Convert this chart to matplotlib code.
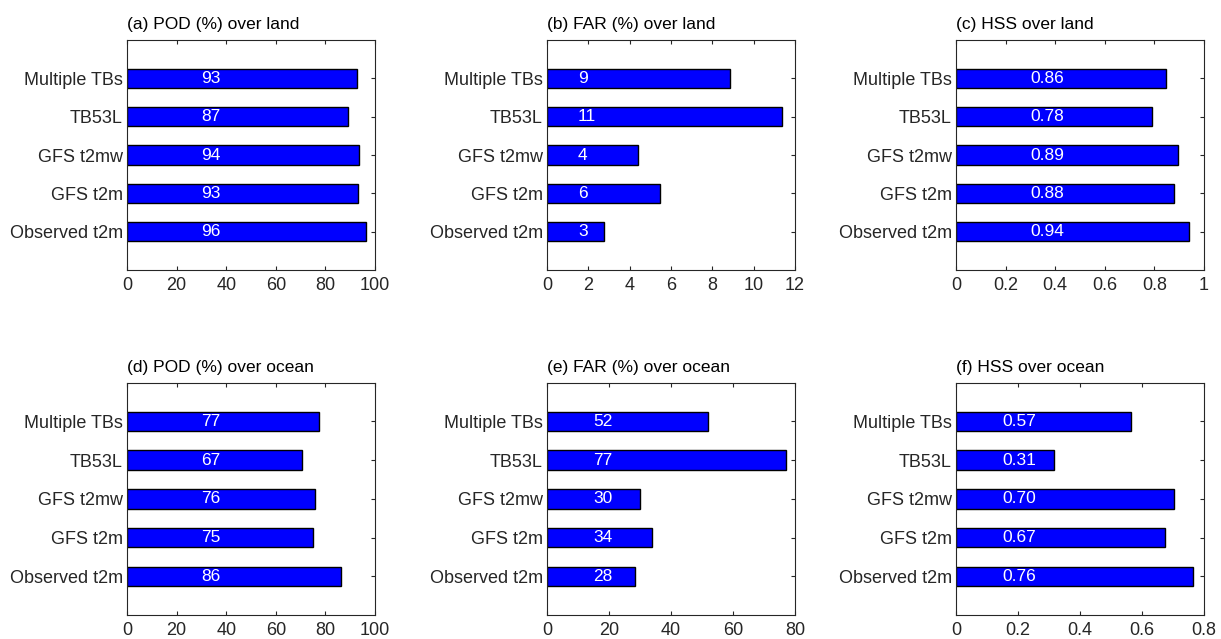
import matplotlib
matplotlib.use("Agg")
import matplotlib.pyplot as plt

plt.rcParams['font.family'] = ['Liberation Sans', 'DejaVu Sans']

categories = ["Observed t2m", "GFS t2m", "GFS t2mw", "TB53L", "Multiple TBs"]

pod_land = [96.2, 93.0, 93.4, 89.0, 92.6]
far_land = [2.74, 5.48, 4.40, 11.37, 8.84]
hss_land = [0.938, 0.879, 0.897, 0.789, 0.848]
pod_ocean = [86.3, 74.8, 76.0, 70.6, 77.4]
far_ocean = [28.4, 34.0, 30.1, 77.1, 51.8]
hss_ocean = [0.763, 0.673, 0.702, 0.315, 0.565]

pod_land_lbl = ["96", "93", "94", "87", "93"]
far_land_lbl = ["3", "6", "4", "11", "9"]
hss_land_lbl = ["0.94", "0.88", "0.89", "0.78", "0.86"]
pod_ocean_lbl = ["86", "75", "76", "67", "77"]
far_ocean_lbl = ["28", "34", "30", "77", "52"]
hss_ocean_lbl = ["0.76", "0.67", "0.70", "0.31", "0.57"]

titles = ["(a) POD (%) over land", "(b) FAR (%) over land", "(c) HSS over land",
          "(d) POD (%) over ocean", "(e) FAR (%) over ocean", "(f) HSS over ocean"]

W, H = 1221, 639
fig = plt.figure(figsize=(W / 100, H / 100), dpi=100)

gray = (0.15, 0.15, 0.15)

panels = [
    (pod_land, pod_land_lbl, (0, 100), [0, 20, 40, 60, 80, 100], ["0", "20", "40", "60", "80", "100"], 30),
    (far_land, far_land_lbl, (0, 12), [0, 2, 4, 6, 8, 10, 12], ["0", "2", "4", "6", "8", "10", "12"], 1.5),
    (hss_land, hss_land_lbl, (0, 1), [0, 0.2, 0.4, 0.6, 0.8, 1], ["0", "0.2", "0.4", "0.6", "0.8", "1"], 0.3),
    (pod_ocean, pod_ocean_lbl, (0, 100), [0, 20, 40, 60, 80, 100], ["0", "20", "40", "60", "80", "100"], 30),
    (far_ocean, far_ocean_lbl, (0, 80), [0, 20, 40, 60, 80], ["0", "20", "40", "60", "80"], 15),
    (hss_ocean, hss_ocean_lbl, (0, 0.8), [0, 0.2, 0.4, 0.6, 0.8], ["0", "0.2", "0.4", "0.6", "0.8"], 0.15),
]

lefts = [127, 547, 956]
rows = [(40, 270), (382.7, 615)]
axw = 248

for i, (vals, lbls, xlim, xt, xtl, lx) in enumerate(panels):
    r, c = divmod(i, 3)
    top, bot = rows[r]
    ax = fig.add_axes([lefts[c] / W, 1 - bot / H, axw / W, (bot - top) / H])
    ypos = list(range(1, len(categories) + 1))
    ax.barh(ypos, vals, height=0.5, color=(0, 0, 1), edgecolor='black', linewidth=1.0, zorder=2)
    for y, t in zip(ypos, lbls):
        ax.text(lx, y, t, color='white', fontsize=12.5, ha='left', va='center', zorder=3)
    ax.set_xlim(*xlim)
    ax.set_ylim(0, 6)
    ax.set_xticks(xt)
    ax.set_xticklabels(xtl)
    ax.set_yticks(ypos)
    ax.set_yticklabels(categories)
    ax.set_axisbelow(True)
    ax.tick_params(axis='both', direction='in', length=3, width=0.8, color=gray,
                   labelcolor=gray, labelsize=13, top=True, right=True)
    ax.tick_params(axis='x', pad=5)
    ax.tick_params(axis='y', pad=3)
    for s in ax.spines.values():
        s.set_color(gray)
        s.set_linewidth(0.8)
    ax.set_title(titles[i], loc='left', fontsize=12.5, pad=8, color='black')

fig.savefig("out.png", dpi=100)
